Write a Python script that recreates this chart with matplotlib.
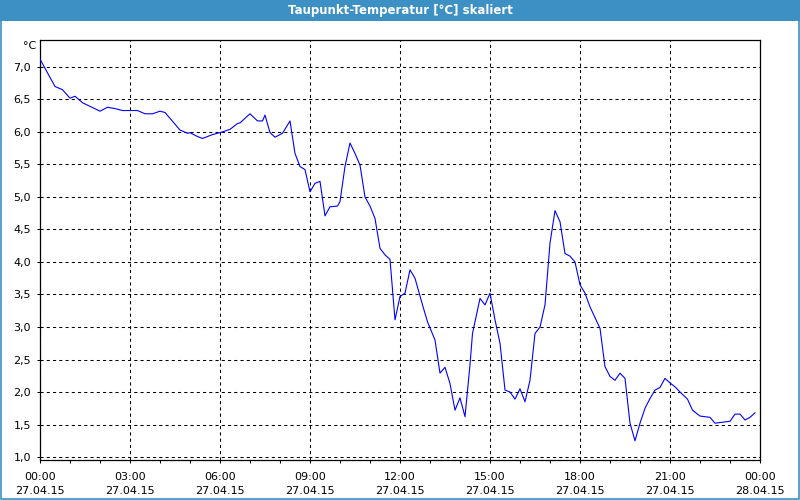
import matplotlib
matplotlib.use("Agg")
import matplotlib.pyplot as plt
from matplotlib.patches import Rectangle
import numpy as np

# Taupunkt readings, 27.04.15
times = ["00:00", "00:30", "00:45", "01:00", "01:10", "01:25", "02:00", "02:15", "02:30", "02:45",
         "03:15", "03:30", "03:45", "04:00", "04:10", "04:40", "04:55", "05:00", "05:15", "05:25",
         "05:45", "06:00", "06:20", "06:35", "06:40", "07:00", "07:15", "07:25", "07:30", "07:40",
         "07:50", "08:05", "08:20", "08:30", "08:40", "08:50", "09:00", "09:10", "09:20", "09:30",
         "09:40", "09:55", "10:00", "10:10", "10:20", "10:30", "10:40", "10:50", "11:00", "11:10",
         "11:20", "11:30", "11:40", "11:50", "12:00", "12:10", "12:20", "12:30", "12:45", "12:55",
         "13:10", "13:20", "13:30", "13:40", "13:50", "14:00", "14:10", "14:20", "14:25", "14:40",
         "14:50", "15:00", "15:10", "15:20", "15:30", "15:40", "15:50", "16:00", "16:10", "16:20",
         "16:30", "16:40", "16:50", "17:00", "17:10", "17:20", "17:30", "17:40", "17:50", "18:00",
         "18:10", "18:20", "18:40", "18:50", "19:00", "19:10", "19:20", "19:30", "19:40", "19:50",
         "20:00", "20:10", "20:20", "20:30", "20:40", "20:50", "21:00", "21:10", "21:20", "21:35",
         "21:45", "22:00", "22:20", "22:30", "22:40", "23:00", "23:10", "23:20", "23:30", "23:40",
         "23:50"]
taupunkt = [7.12, 6.70, 6.65, 6.52, 6.55, 6.45, 6.32, 6.38, 6.36, 6.33,
            6.33, 6.28, 6.28, 6.32, 6.30, 6.03, 5.98, 5.99, 5.93, 5.90,
            5.96, 5.99, 6.04, 6.13, 6.14, 6.28, 6.17, 6.17, 6.26, 5.99,
            5.92, 5.98, 6.17, 5.67, 5.47, 5.42, 5.08, 5.21, 5.24, 4.71,
            4.85, 4.86, 4.93, 5.47, 5.83, 5.67, 5.49, 5.00, 4.86, 4.67,
            4.21, 4.11, 4.04, 3.11, 3.47, 3.52, 3.88, 3.75, 3.34, 3.08,
            2.80, 2.29, 2.38, 2.13, 1.72, 1.91, 1.62, 2.42, 2.90, 3.44,
            3.34, 3.52, 3.11, 2.75, 2.03, 2.00, 1.89, 2.05, 1.85, 2.18,
            2.90, 3.00, 3.34, 4.29, 4.79, 4.62, 4.13, 4.09, 4.00, 3.65,
            3.52, 3.31, 2.98, 2.39, 2.24, 2.18, 2.29, 2.21, 1.52, 1.25,
            1.52, 1.75, 1.90, 2.03, 2.07, 2.21, 2.14, 2.08, 2.00, 1.89,
            1.72, 1.63, 1.61, 1.52, 1.53, 1.55, 1.66, 1.66, 1.57, 1.61,
            1.68]

xtick_labels = ["00:00\n27.04.15", "03:00\n27.04.15", "06:00\n27.04.15", "09:00\n27.04.15",
                "12:00\n27.04.15", "15:00\n27.04.15", "18:00\n27.04.15", "21:00\n27.04.15",
                "00:00\n28.04.15"]
yticks = [1.0, 1.5, 2.0, 2.5, 3.0, 3.5, 4.0, 4.5, 5.0, 5.5, 6.0, 6.5, 7.0]

hours = np.array([int(t[:2]) + int(t[3:]) / 60 for t in times])

fig = plt.figure(figsize=(8, 5), dpi=100)
fig.patch.set_facecolor("white")

# title bar + window border
bar_col = "#3c90c4"
fig.patches.append(Rectangle((0, 1 - 20.5 / 500), 1, 20.5 / 500, transform=fig.transFigure,
                             facecolor=bar_col, edgecolor="none", zorder=0))
fig.patches.append(Rectangle((0.6 / 800, 1.0 / 500), 1 - 1.6 / 800, 1 - 2 / 500, transform=fig.transFigure,
                             facecolor="none", edgecolor=bar_col, linewidth=1.2, zorder=0))
fig.text(0.5, 1 - 10.5 / 500, "Taupunkt-Temperatur [°C] skaliert", color="white",
         fontsize=8.5, fontweight="bold", ha="center", va="center")

ax = fig.add_axes([40 / 800, 40 / 500, 720 / 800, 420 / 500])
ax.plot(hours, taupunkt, color="#0000ff", linewidth=0.8, zorder=3)

ax.set_xlim(0, 24)
ax.set_ylim(0.954, 7.415)

ax.set_xticks(np.arange(0, 25, 3))
ax.set_xticklabels(xtick_labels, fontsize=8, linespacing=1.55)
ax.set_xticks(np.arange(0, 25, 1), minor=True)
ax.set_yticks(yticks)
ax.set_yticklabels([f"{v:.1f}".replace(".", ",") for v in yticks], fontsize=8)

ax.tick_params(axis="both", which="both", length=2.5, width=0.75, color="black", pad=4)
ax.tick_params(axis="x", which="major", pad=6)

for s in ax.spines.values():
    s.set_linewidth(0.9)
    s.set_color("black")

ax.grid(True, which="major", color="black", linestyle=(0, (3, 3)), linewidth=0.75)

fig.text(36 / 800, 1 - 46 / 500, "°C", fontsize=8, ha="right", va="center")

fig.savefig("out.png", dpi=100)
